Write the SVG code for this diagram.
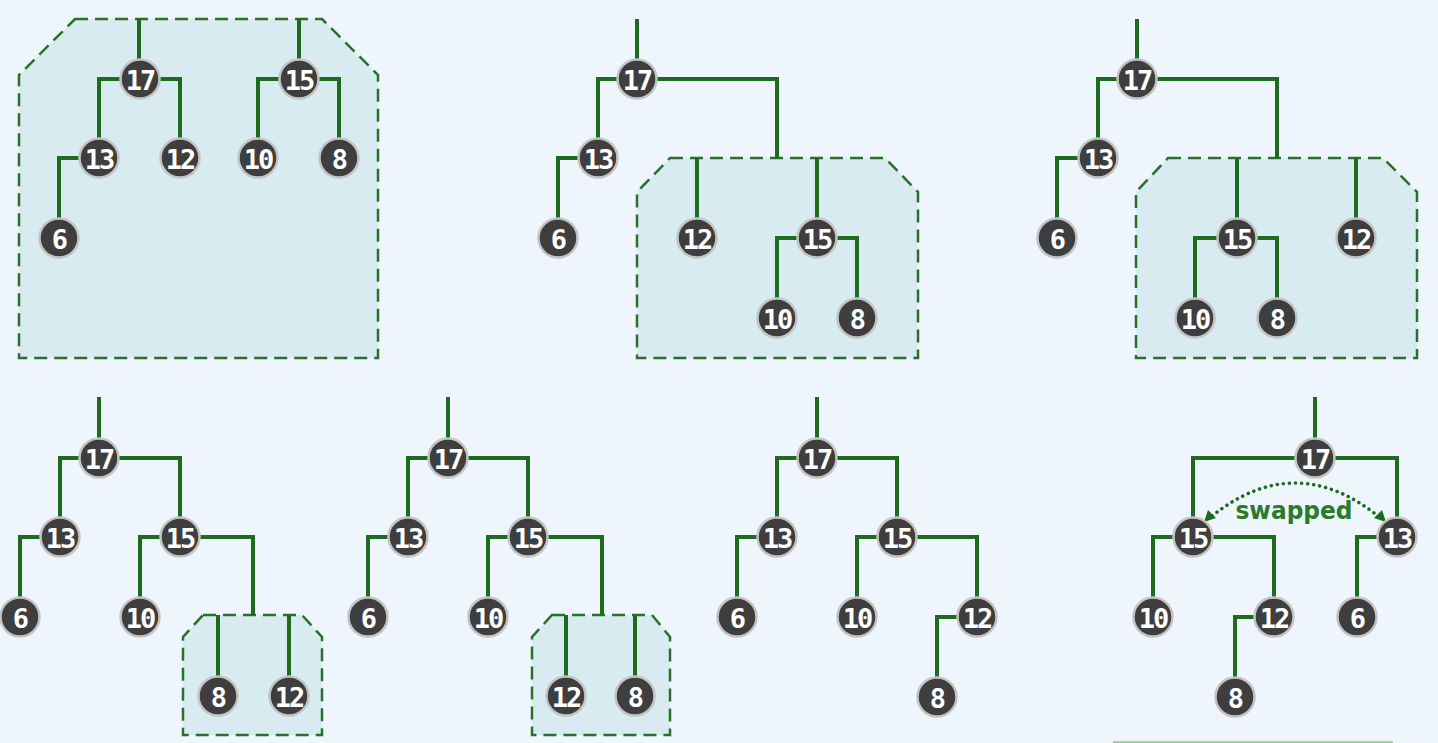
<svg xmlns="http://www.w3.org/2000/svg" width="1438" height="743" viewBox="0 0 1438 743">
<style>
.bg{fill:#eef5fc}
.box{fill:#d8ebf1;stroke:#2a702a;stroke-width:2.5;stroke-dasharray:13 7}
.edge{fill:none;stroke:#1d6b1d;stroke-width:4;stroke-linejoin:miter;stroke-linecap:butt}
.n circle{fill:#3e3e3e;stroke:#c4c4c4;stroke-width:2.5}
.n text{fill:#ffffff;font-family:"DejaVu Sans Mono","Liberation Mono",monospace;font-weight:bold;font-size:27px;text-anchor:middle;dominant-baseline:central;letter-spacing:-2px}
.lbl{fill:#2a7a2a;font-family:"DejaVu Sans","Liberation Sans",sans-serif;font-weight:bold;font-size:24px;text-anchor:middle}
.arc{fill:none;stroke:#1d6b1d;stroke-width:3.5;stroke-dasharray:0.1 6;stroke-linecap:round}
</style>
<rect class="bg" x="0" y="0" width="1438" height="743"/>
<rect x="1113" y="741" width="280" height="2" fill="#9fd39a"/>

<g id="boxes">
<polygon class="box" points="75,19 322,19 378,75 378,358 19,358 19,75"/>
<polygon class="box" points="670,158 885,158 918,192 918,358 637,358 637,192"/>
<polygon class="box" points="1168,158 1383,158 1417,192 1417,358 1136,358 1136,192"/>
<polygon class="box" points="203,615 302,615 322,637 322,735 183,735 183,637"/>
<polygon class="box" points="552,615 652,615 670,637 670,735 532,735 532,637"/>
</g>

<g id="connectors">
<path class="edge" d="M139 19 V79 M299 19 V79 M140 79 H99 V158 M140 79 H180 V158 M299 79 H258 V158 M299 79 H339 V158 M99 158 H59 V238"/>
<path class="edge" d="M637 19 V79 M637 79 H598 V158 M637 79 H777 V158 M598 158 H558 V238 M697 158 V238 M817 158 V238 M817 238 H777 V318 M817 238 H857 V318"/>
<path class="edge" d="M1137 19 V79 M1137 79 H1098 V158 M1137 79 H1277 V158 M1098 158 H1057 V238 M1237 158 V238 M1356 158 V238 M1237 238 H1195 V318 M1237 238 H1277 V318"/>
<path class="edge" d="M99 397 V458 M99 458 H60 V537 M99 458 H180 V537 M60 537 H20 V617 M180 537 H140 V617 M180 537 H253 V615 M218 615 V696 M289 615 V696"/>
<path class="edge" d="M448 397 V458 M448 458 H408 V537 M448 458 H528 V537 M408 537 H368 V617 M528 537 H488 V617 M528 537 H602 V615 M566 615 V696 M635 615 V696"/>
<path class="edge" d="M817 397 V458 M817 458 H777 V537 M817 458 H897 V537 M777 537 H737 V617 M897 537 H857 V617 M897 537 H977 V617 M977 617 H937 V697"/>
<path class="edge" d="M1315 397 V458 M1315 458 H1193 V537 M1315 458 H1397 V537 M1193 537 H1153 V617 M1193 537 H1274 V617 M1397 537 H1357 V617 M1274 617 H1235 V697"/>
<path class="arc" d="M1212 516 Q1295 450 1378 516"/>
<path d="M1204 522 L1208 510 L1216 518 Z" fill="#1d6b1d"/>
<path d="M1386 522 L1382 510 L1374 518 Z" fill="#1d6b1d"/>
<text class="lbl" x="1294" y="519" textLength="117" lengthAdjust="spacingAndGlyphs">swapped</text>
</g>

<!-- panel 1 -->
<g id="p1-17" class="n"><circle cx="140" cy="79" r="19.5"/><text x="140" y="80">17</text></g>
<g id="p1-15" class="n"><circle cx="299" cy="79" r="19.5"/><text x="299" y="80">15</text></g>
<g id="p1-13" class="n"><circle cx="99" cy="158" r="19.5"/><text x="99" y="159">13</text></g>
<g id="p1-12" class="n"><circle cx="180" cy="158" r="19.5"/><text x="180" y="159">12</text></g>
<g id="p1-10" class="n"><circle cx="258" cy="158" r="19.5"/><text x="258" y="159">10</text></g>
<g id="p1-8" class="n"><circle cx="339" cy="158" r="19.5"/><text x="339" y="159">8</text></g>
<g id="p1-6" class="n"><circle cx="59" cy="238" r="19.5"/><text x="59" y="239">6</text></g>

<!-- panel 2 -->
<g id="p2-17" class="n"><circle cx="637" cy="79" r="19.5"/><text x="637" y="80">17</text></g>
<g id="p2-13" class="n"><circle cx="598" cy="158" r="19.5"/><text x="598" y="159">13</text></g>
<g id="p2-6" class="n"><circle cx="558" cy="238" r="19.5"/><text x="558" y="239">6</text></g>
<g id="p2-12" class="n"><circle cx="697" cy="238" r="19.5"/><text x="697" y="239">12</text></g>
<g id="p2-15" class="n"><circle cx="817" cy="238" r="19.5"/><text x="817" y="239">15</text></g>
<g id="p2-10" class="n"><circle cx="777" cy="318" r="19.5"/><text x="777" y="319">10</text></g>
<g id="p2-8" class="n"><circle cx="857" cy="318" r="19.5"/><text x="857" y="319">8</text></g>

<!-- panel 3 -->
<g id="p3-17" class="n"><circle cx="1137" cy="79" r="19.5"/><text x="1137" y="80">17</text></g>
<g id="p3-13" class="n"><circle cx="1098" cy="158" r="19.5"/><text x="1098" y="159">13</text></g>
<g id="p3-6" class="n"><circle cx="1057" cy="238" r="19.5"/><text x="1057" y="239">6</text></g>
<g id="p3-15" class="n"><circle cx="1237" cy="238" r="19.5"/><text x="1237" y="239">15</text></g>
<g id="p3-12" class="n"><circle cx="1356" cy="238" r="19.5"/><text x="1356" y="239">12</text></g>
<g id="p3-10" class="n"><circle cx="1195" cy="318" r="19.5"/><text x="1195" y="319">10</text></g>
<g id="p3-8" class="n"><circle cx="1277" cy="318" r="19.5"/><text x="1277" y="319">8</text></g>

<!-- panel 4 -->
<g id="p4-17" class="n"><circle cx="99" cy="458" r="19.5"/><text x="99" y="459">17</text></g>
<g id="p4-13" class="n"><circle cx="60" cy="537" r="19.5"/><text x="60" y="538">13</text></g>
<g id="p4-15" class="n"><circle cx="180" cy="537" r="19.5"/><text x="180" y="538">15</text></g>
<g id="p4-6" class="n"><circle cx="20" cy="617" r="19.5"/><text x="20" y="618">6</text></g>
<g id="p4-10" class="n"><circle cx="140" cy="617" r="19.5"/><text x="140" y="618">10</text></g>
<g id="p4-8" class="n"><circle cx="218" cy="696" r="19.5"/><text x="218" y="697">8</text></g>
<g id="p4-12" class="n"><circle cx="289" cy="696" r="19.5"/><text x="289" y="697">12</text></g>

<!-- panel 5 -->
<g id="p5-17" class="n"><circle cx="448" cy="458" r="19.5"/><text x="448" y="459">17</text></g>
<g id="p5-13" class="n"><circle cx="408" cy="537" r="19.5"/><text x="408" y="538">13</text></g>
<g id="p5-15" class="n"><circle cx="528" cy="537" r="19.5"/><text x="528" y="538">15</text></g>
<g id="p5-6" class="n"><circle cx="368" cy="617" r="19.5"/><text x="368" y="618">6</text></g>
<g id="p5-10" class="n"><circle cx="488" cy="617" r="19.5"/><text x="488" y="618">10</text></g>
<g id="p5-12" class="n"><circle cx="566" cy="696" r="19.5"/><text x="566" y="697">12</text></g>
<g id="p5-8" class="n"><circle cx="635" cy="696" r="19.5"/><text x="635" y="697">8</text></g>

<!-- panel 6 -->
<g id="p6-17" class="n"><circle cx="817" cy="458" r="19.5"/><text x="817" y="459">17</text></g>
<g id="p6-13" class="n"><circle cx="777" cy="537" r="19.5"/><text x="777" y="538">13</text></g>
<g id="p6-15" class="n"><circle cx="897" cy="537" r="19.5"/><text x="897" y="538">15</text></g>
<g id="p6-6" class="n"><circle cx="737" cy="617" r="19.5"/><text x="737" y="618">6</text></g>
<g id="p6-10" class="n"><circle cx="857" cy="617" r="19.5"/><text x="857" y="618">10</text></g>
<g id="p6-12" class="n"><circle cx="977" cy="617" r="19.5"/><text x="977" y="618">12</text></g>
<g id="p6-8" class="n"><circle cx="937" cy="697" r="19.5"/><text x="937" y="698">8</text></g>

<!-- panel 7 -->
<g id="p7-17" class="n"><circle cx="1315" cy="458" r="19.5"/><text x="1315" y="459">17</text></g>
<g id="p7-15" class="n"><circle cx="1193" cy="537" r="19.5"/><text x="1193" y="538">15</text></g>
<g id="p7-13" class="n"><circle cx="1397" cy="537" r="19.5"/><text x="1397" y="538">13</text></g>
<g id="p7-10" class="n"><circle cx="1153" cy="617" r="19.5"/><text x="1153" y="618">10</text></g>
<g id="p7-12" class="n"><circle cx="1274" cy="617" r="19.5"/><text x="1274" y="618">12</text></g>
<g id="p7-6" class="n"><circle cx="1357" cy="617" r="19.5"/><text x="1357" y="618">6</text></g>
<g id="p7-8" class="n"><circle cx="1235" cy="697" r="19.5"/><text x="1235" y="698">8</text></g>
</svg>
